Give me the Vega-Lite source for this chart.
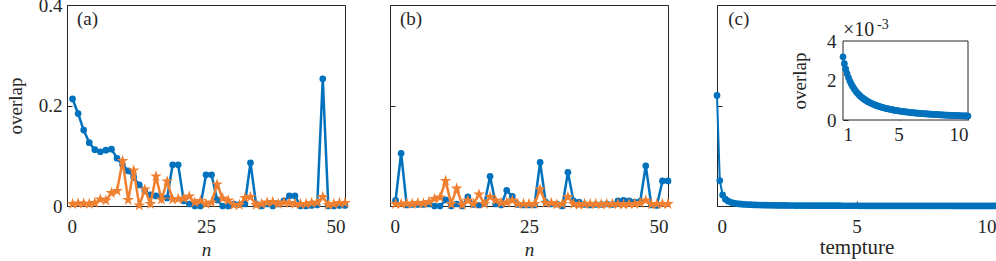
{
  "$schema": "https://vega.github.io/schema/vega-lite/v6.json",
  "background": "white",
  "padding": {"left": 5, "top": -5, "right": 0, "bottom": 0},
  "spacing": 37,
  "config": {
    "font": "Liberation Serif",
    "view": {"stroke": "#262626", "strokeWidth": 1},
    "axis": {
      "grid": false,
      "domain": false,
      "tickColor": "#262626",
      "tickSize": -5,
      "labelColor": "#262626",
      "titleColor": "#262626",
      "labelFont": "Liberation Serif",
      "titleFont": "Liberation Serif",
      "labelFontSize": 19,
      "titleFontSize": 19,
      "titleFontWeight": "normal"
    },
    "axisX": {"labelPadding": 16},
    "axisY": {"labelPadding": 10}
  },
  "datasets": {
    "pa": [
      {"n":1,"blue":0.213,"orange":0.004},{"n":2,"blue":0.184,"orange":0.005},{"n":3,"blue":0.151,"orange":0.005},{"n":4,"blue":0.126,"orange":0.004},{"n":5,"blue":0.112,"orange":0.006},
      {"n":6,"blue":0.108,"orange":0.013},{"n":7,"blue":0.111,"orange":0.011},{"n":8,"blue":0.113,"orange":0.026},{"n":9,"blue":0.095,"orange":0.030},{"n":10,"blue":0.082,"orange":0.090},
      {"n":11,"blue":0.070,"orange":0.012},{"n":12,"blue":0.057,"orange":0.071},{"n":13,"blue":0.042,"orange":0.001},{"n":14,"blue":0.030,"orange":0.033},{"n":15,"blue":0.022,"orange":0.004},
      {"n":16,"blue":0.020,"orange":0.059},{"n":17,"blue":0.018,"orange":0.013},{"n":18,"blue":0.016,"orange":0.049},{"n":19,"blue":0.082,"orange":0.013},{"n":20,"blue":0.082,"orange":0.014},
      {"n":21,"blue":0.010,"orange":0.015},{"n":22,"blue":0.004,"orange":0.019},{"n":23,"blue":0.0,"orange":0.007},{"n":24,"blue":0.0,"orange":0.010},{"n":25,"blue":0.062,"orange":0.004},
      {"n":26,"blue":0.062,"orange":0.007},{"n":27,"blue":0.012,"orange":0.043},{"n":28,"blue":0.0,"orange":0.015},{"n":29,"blue":0.0,"orange":0.011},{"n":30,"blue":0.004,"orange":0.002},
      {"n":31,"blue":0.003,"orange":0.002},{"n":32,"blue":0.004,"orange":0.016},{"n":33,"blue":0.086,"orange":0.018},{"n":34,"blue":0.004,"orange":0.002},{"n":35,"blue":0.0,"orange":0.004},
      {"n":36,"blue":0.004,"orange":0.007},{"n":37,"blue":0.0,"orange":0.008},{"n":38,"blue":0.004,"orange":0.004},{"n":39,"blue":0.010,"orange":0.007},{"n":40,"blue":0.020,"orange":0.006},
      {"n":41,"blue":0.020,"orange":0.004},{"n":42,"blue":0.0,"orange":0.004},{"n":43,"blue":0.0,"orange":0.004},{"n":44,"blue":0.001,"orange":0.006},{"n":45,"blue":0.002,"orange":0.007},
      {"n":46,"blue":0.253,"orange":0.018},{"n":47,"blue":0.0,"orange":0.002},{"n":48,"blue":0.0,"orange":0.004},{"n":49,"blue":0.001,"orange":0.006},{"n":50,"blue":0.001,"orange":0.006}
    ],
    "pb": [
      {"n":1,"blue":0.011,"orange":0.004},{"n":2,"blue":0.105,"orange":0.004},{"n":3,"blue":0.002,"orange":0.005},{"n":4,"blue":0.003,"orange":0.004},{"n":5,"blue":0.003,"orange":0.006},
      {"n":6,"blue":0.003,"orange":0.005},{"n":7,"blue":0.004,"orange":0.008},{"n":8,"blue":0.0,"orange":0.014},{"n":9,"blue":0.0,"orange":0.017},{"n":10,"blue":0.012,"orange":0.050},
      {"n":11,"blue":0.0,"orange":0.004},{"n":12,"blue":0.004,"orange":0.035},{"n":13,"blue":0.0,"orange":0.002},{"n":14,"blue":0.018,"orange":0.011},{"n":15,"blue":0.003,"orange":0.004},
      {"n":16,"blue":0.002,"orange":0.023},{"n":17,"blue":0.005,"orange":0.004},{"n":18,"blue":0.059,"orange":0.018},{"n":19,"blue":0.004,"orange":0.011},{"n":20,"blue":0.002,"orange":0.006},
      {"n":21,"blue":0.031,"orange":0.007},{"n":22,"blue":0.019,"orange":0.011},{"n":23,"blue":0.003,"orange":0.004},{"n":24,"blue":0.002,"orange":0.004},{"n":25,"blue":0.002,"orange":0.004},
      {"n":26,"blue":0.002,"orange":0.004},{"n":27,"blue":0.087,"orange":0.033},{"n":28,"blue":0.008,"orange":0.006},{"n":29,"blue":0.004,"orange":0.006},{"n":30,"blue":0.004,"orange":0.003},
      {"n":31,"blue":0.0,"orange":0.004},{"n":32,"blue":0.067,"orange":0.018},{"n":33,"blue":0.010,"orange":0.004},{"n":34,"blue":0.008,"orange":0.002},{"n":35,"blue":0.003,"orange":0.004},
      {"n":36,"blue":0.002,"orange":0.004},{"n":37,"blue":0.003,"orange":0.004},{"n":38,"blue":0.003,"orange":0.003},{"n":39,"blue":0.004,"orange":0.004},{"n":40,"blue":0.003,"orange":0.004},
      {"n":41,"blue":0.010,"orange":0.004},{"n":42,"blue":0.011,"orange":0.003},{"n":43,"blue":0.010,"orange":0.004},{"n":44,"blue":0.008,"orange":0.004},{"n":45,"blue":0.009,"orange":0.006},
      {"n":46,"blue":0.080,"orange":0.011},{"n":47,"blue":0.002,"orange":0.003},{"n":48,"blue":0.001,"orange":0.004},{"n":49,"blue":0.050,"orange":0.004},{"n":50,"blue":0.050,"orange":0.004}
    ],
    "pc": [
      {"t":0,"v":0.22},{"t":0.1,"v":0.0507},{"t":0.2,"v":0.0221},{"t":0.3,"v":0.0136},{"t":0.4,"v":0.0096},{"t":0.5,"v":0.0074},{"t":0.6,"v":0.0059},{"t":0.7,"v":0.0049},{"t":0.8,"v":0.0042},{"t":0.9,"v":0.0036},
      {"t":1.0,"v":0.0032},{"t":1.1,"v":0.002854},{"t":1.2,"v":0.002571},{"t":1.3,"v":0.002336},{"t":1.4,"v":0.002137},{"t":1.5,"v":0.001967},{"t":1.6,"v":0.001821},{"t":1.7,"v":0.001693},{"t":1.8,"v":0.001581},{"t":1.9,"v":0.001481},
      {"t":2.0,"v":0.001393},{"t":2.1,"v":0.001314},{"t":2.2,"v":0.001242},{"t":2.3,"v":0.001178},{"t":2.4,"v":0.001119},{"t":2.5,"v":0.001066},{"t":2.6,"v":0.001017},{"t":2.7,"v":0.000972},{"t":2.8,"v":0.00093},{"t":2.9,"v":0.000892},
      {"t":3.0,"v":0.000856},{"t":3.1,"v":0.000823},{"t":3.2,"v":0.000792},{"t":3.3,"v":0.000764},{"t":3.4,"v":0.000737},{"t":3.5,"v":0.000712},{"t":3.6,"v":0.000688},{"t":3.7,"v":0.000666},{"t":3.8,"v":0.000645},{"t":3.9,"v":0.000625},
      {"t":4.0,"v":0.000606},{"t":4.1,"v":0.000589},{"t":4.2,"v":0.000572},{"t":4.3,"v":0.000556},{"t":4.4,"v":0.000541},{"t":4.5,"v":0.000526},{"t":4.6,"v":0.000513},{"t":4.7,"v":0.0005},{"t":4.8,"v":0.000487},{"t":4.9,"v":0.000475},
      {"t":5.0,"v":0.000464},{"t":5.1,"v":0.000453},{"t":5.2,"v":0.000443},{"t":5.3,"v":0.000433},{"t":5.4,"v":0.000423},{"t":5.5,"v":0.000414},{"t":5.6,"v":0.000405},{"t":5.7,"v":0.000396},{"t":5.8,"v":0.000388},{"t":5.9,"v":0.00038},
      {"t":6.0,"v":0.000373},{"t":6.1,"v":0.000365},{"t":6.2,"v":0.000358},{"t":6.3,"v":0.000352},{"t":6.4,"v":0.000345},{"t":6.5,"v":0.000339},{"t":6.6,"v":0.000332},{"t":6.7,"v":0.000326},{"t":6.8,"v":0.000321},{"t":6.9,"v":0.000315},
      {"t":7.0,"v":0.00031},{"t":7.1,"v":0.000305},{"t":7.2,"v":0.000299},{"t":7.3,"v":0.000295},{"t":7.4,"v":0.00029},{"t":7.5,"v":0.000285},{"t":7.6,"v":0.000281},{"t":7.7,"v":0.000276},{"t":7.8,"v":0.000272},{"t":7.9,"v":0.000268},
      {"t":8.0,"v":0.000264},{"t":8.1,"v":0.00026},{"t":8.2,"v":0.000256},{"t":8.3,"v":0.000252},{"t":8.4,"v":0.000249},{"t":8.5,"v":0.000245},{"t":8.6,"v":0.000242},{"t":8.7,"v":0.000239},{"t":8.8,"v":0.000235},{"t":8.9,"v":0.000232},
      {"t":9.0,"v":0.000229},{"t":9.1,"v":0.000226},{"t":9.2,"v":0.000223},{"t":9.3,"v":0.00022},{"t":9.4,"v":0.000217},{"t":9.5,"v":0.000215},{"t":9.6,"v":0.000212},{"t":9.7,"v":0.000209},{"t":9.8,"v":0.000207},{"t":9.9,"v":0.000204},
      {"t":10.0,"v":0.000202}
    ]
  },
  "hconcat": [
    {
      "width": 278, "height": 201,
      "data": {"name": "pa"},
      "layer": [
        {
          "mark": {"type": "line", "color": "#0072BD", "strokeWidth": 2.5, "point": {"filled": true, "size": 45, "color": "#0072BD"}},
          "encoding": {
            "x": {"field": "n", "type": "quantitative", "scale": {"domain": [0, 50]}, "axis": {"values": [0, 25, 50], "title": "n", "titleFontStyle": "italic", "titlePadding": 4}},
            "y": {"field": "blue", "type": "quantitative", "scale": {"domain": [0, 0.4]}, "axis": {"values": [0, 0.2, 0.4], "format": "~g", "title": "overlap", "titlePadding": 13}}
          }
        },
        {
          "mark": {"type": "line", "color": "#F07F30", "strokeWidth": 2.5, "point": {"filled": true, "shape": "M0,-1L0.2245,-0.309L0.951,-0.309L0.3633,0.118L0.5878,0.809L0,0.382L-0.5878,0.809L-0.3633,0.118L-0.951,-0.309L-0.2245,-0.309Z", "size": 150, "color": "#F07F30"}},
          "encoding": {
            "x": {"field": "n", "type": "quantitative"},
            "y": {"field": "orange", "type": "quantitative"}
          }
        },
        {
          "data": {"values": [{"label": "(a)"}]},
          "mark": {"type": "text", "align": "left", "baseline": "middle", "fontSize": 19, "color": "#262626"},
          "encoding": {"text": {"field": "label"}, "x": {"datum": 1.8, "type": "quantitative"}, "y": {"datum": 0.372, "type": "quantitative"}}
        }
      ]
    },
    {
      "width": 278, "height": 201,
      "data": {"name": "pb"},
      "layer": [
        {
          "mark": {"type": "line", "color": "#0072BD", "strokeWidth": 2.5, "point": {"filled": true, "size": 45, "color": "#0072BD"}},
          "encoding": {
            "x": {"field": "n", "type": "quantitative", "scale": {"domain": [0, 50]}, "axis": {"values": [0, 25, 50], "title": "n", "titleFontStyle": "italic", "titlePadding": 4}},
            "y": {"field": "blue", "type": "quantitative", "scale": {"domain": [0, 0.4]}, "axis": {"values": [0, 0.2, 0.4], "labels": false, "title": null}}
          }
        },
        {
          "mark": {"type": "line", "color": "#F07F30", "strokeWidth": 2.5, "point": {"filled": true, "shape": "M0,-1L0.2245,-0.309L0.951,-0.309L0.3633,0.118L0.5878,0.809L0,0.382L-0.5878,0.809L-0.3633,0.118L-0.951,-0.309L-0.2245,-0.309Z", "size": 150, "color": "#F07F30"}},
          "encoding": {
            "x": {"field": "n", "type": "quantitative"},
            "y": {"field": "orange", "type": "quantitative"}
          }
        },
        {
          "data": {"values": [{"label": "(b)"}]},
          "mark": {"type": "text", "align": "left", "baseline": "middle", "fontSize": 19, "color": "#262626"},
          "encoding": {"text": {"field": "label"}, "x": {"datum": 1.8, "type": "quantitative"}, "y": {"datum": 0.372, "type": "quantitative"}}
        }
      ]
    },
    {
      "width": 279, "height": 201,
      "layer": [
        {
          "data": {"name": "pc"},
          "layer": [
            {
              "mark": {"type": "line", "color": "#0072BD", "strokeWidth": 2, "point": {"filled": true, "size": 45, "color": "#0072BD"}},
              "encoding": {
                "x": {"field": "t", "type": "quantitative", "scale": {"domain": [0, 10]}, "axis": {"values": [0, 5, 10], "title": "tempture", "titleFontSize": 21, "titlePadding": 0, "orient": "bottom"}},
                "y": {"field": "v", "type": "quantitative", "scale": {"domain": [0, 0.4]}, "axis": {"values": [0, 0.2, 0.4], "labels": false, "title": null, "orient": "left"}}
              }
            },
            {
              "data": {"values": [{"label": "(c)"}]},
              "mark": {"type": "text", "align": "left", "baseline": "middle", "fontSize": 19, "color": "#262626"},
              "encoding": {"text": {"field": "label"}, "x": {"datum": 0.4, "type": "quantitative"}, "y": {"datum": 0.372, "type": "quantitative"}}
            }
          ]
        },
        {
          "layer": [
            {
              "data": {"values": [{"box": 1}]},
              "mark": {"type": "rect", "fill": "white", "stroke": "#262626", "strokeWidth": 1},
              "encoding": {
                "x": {"datum": 1, "type": "quantitative", "scale": {"domain": [1, 10], "range": [126, 251]}, "axis": {"values": [1, 5, 10], "title": null, "orient": "bottom", "offset": -86, "labelPadding": 10}},
                "x2": {"datum": 10},
                "y": {"datum": 0, "type": "quantitative", "scale": {"domain": [0, 0.004], "range": [115, 36]}, "axis": {"values": [0, 0.002, 0.004], "labelExpr": "format(datum.value*1000, 'd')", "title": "overlap", "titlePadding": 17, "labelPadding": 12, "orient": "left", "offset": -126}},
                "y2": {"datum": 0.004}
              }
            },
            {
              "data": {"name": "pc"},
              "transform": [{"filter": "datum.t >= 1"}],
              "mark": {"type": "line", "color": "#0072BD", "strokeWidth": 2, "point": {"filled": true, "size": 45, "color": "#0072BD"}},
              "encoding": {
                "x": {"field": "t", "type": "quantitative"},
                "y": {"field": "v", "type": "quantitative"}
              }
            },
            {
              "data": {"values": [{"label": "×10"}]},
              "mark": {"type": "text", "align": "left", "baseline": "alphabetic", "fontSize": 20, "color": "#262626"},
              "encoding": {"text": {"field": "label"}, "x": {"datum": 1.0, "type": "quantitative"}, "y": {"datum": 0.00425, "type": "quantitative"}}
            },
            {
              "data": {"values": [{"label": "-3"}]},
              "mark": {"type": "text", "align": "left", "baseline": "alphabetic", "fontSize": 14, "color": "#262626"},
              "encoding": {"text": {"field": "label"}, "x": {"datum": 3.45, "type": "quantitative"}, "y": {"datum": 0.0046, "type": "quantitative"}}
            }
          ]
        }
      ],
      "resolve": {"scale": {"x": "independent", "y": "independent"}, "axis": {"x": "independent", "y": "independent"}}
    }
  ]
}
